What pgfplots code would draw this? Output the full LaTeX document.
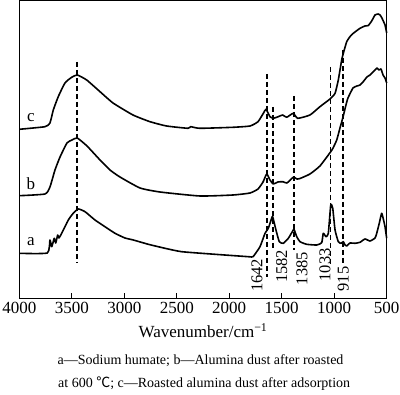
\documentclass[border=0pt]{standalone}
\usepackage{fontspec}
\setmainfont{Liberation Serif}
\newfontfamily\cjk{Noto Sans CJK SC}
\usepackage{pgfplots}
\pgfplotsset{compat=1.18}
\begin{document}
\begin{tikzpicture}[x=1pt,y=1pt]
\useasboundingbox (-19.3,-97) rectangle (380.7,298);
\begin{axis}[
  at={(0,0)}, anchor=south west,
  scale only axis, width=367.4pt, height=297.5pt,
  x dir=reverse, xmin=500, xmax=4000, ymin=0, ymax=297.5,
  xtick={500,1000,1500,2000,2500,3000,3500,4000},
  ytick=\empty,
  xtick pos=bottom, tick align=inside, major tick length=5pt,
  axis line style={line width=0.9pt},
  every tick/.style={black, line width=0.9pt},
  /pgf/number format/assume math mode=true,
  /pgf/number format/1000 sep={},
  xticklabel style={font=\fontsize{17}{20}\selectfont, anchor=base, inner sep=0pt, yshift=-15.3pt},
  clip=false,
  every axis plot/.append style={line width=1.6pt, black, line join=round},
]
% curve a
\addplot[smooth, tension=0.3] coordinates {
(4000,44.7)(3733,45)(3708,58)(3691,51.3)(3667,59.7)(3653,55)(3634,63)(3622,60)(3596,64.7)
(3533,78)(3486,84.7)(3438,89)(3374,86.3)(3279,78)(3184,71.3)(3088,64.7)(2993,60)(2914,58)
(2771,53.7)(2612,49.7)(2453,46.3)(2136,43.7)(1818,41.3)(1786,41)(1771,41.5)(1707,51.3)
(1659,64.7)(1628,69.7)(1596,79.7)(1586,81.3)(1555,68)(1523,56.3)(1485,54.7)(1437,59.7)
(1399,66.3)(1383,68.7)(1357,61.3)(1326,56.3)(1262,53.7)(1167,53)(1119,55.3)(1104,64.7)
(1078,61.3)(1056,64.7)(1033,93)(1014,89.7)(992,68)(961,56.3)(935,54.7)(913,56.3)(897,53)
(881,52)(850,55)(802,54.7)(754,55.7)(707,59)(659,57)(611,60)(595,64.7)(570,75)(548,84.7)
(530,78)(516,71.3)(500,59.7)};
% curve b
\addplot[smooth, tension=0.3] coordinates {
(4000,102.3)(3755,104)(3708,111)(3660,128)(3612,141)(3546,155)(3498,158)(3448,160)
(3355,152)(3231,138)(3136,128)(3041,121)(2850,110)(2660,106)(2279,102)(1964,103)
(1802,105)(1726,109)(1678,116)(1643,124)(1612,118)(1580,114)(1536,116)(1488,116.3)
(1450,115)(1390,120.7)(1355,119)(1326,119.5)(1231,124)(1136,132)(1033,146.3)(1011,150)
(976,158)(945,170)(916,181)(888,193)(869,200)(821,210)(783,212)(754,213)(726,216)
(688,221)(659,223)(630,226)(611,228)(592,230)(573,228)(554,229)(535,223)(516,220)(500,215)};
% curve c
\addplot[smooth, tension=0.3] coordinates {
(4000,168.7)(3755,171.3)(3708,175)(3676,188)(3629,201.3)(3565,215)(3501,220.7)(3448,223)
(3358,218)(3231,206.3)(3107,195)(2917,183)(2755,176.3)(2597,172)(2393,169.7)(2367,171.3)
(2279,169.7)(1964,170.7)(1802,172)(1726,176.3)(1675,184.7)(1650,188.7)(1612,181.3)
(1580,179.7)(1533,181.3)(1491,183)(1453,180.7)(1390,184.7)(1348,179.7)(1231,183)
(1136,191.3)(1040,199)(992,204.7)(961,218)(929,238)(913,244.7)(881,256.3)(850,261.3)
(818,264.7)(754,269.7)(707,272)(675,272.5)(643,277)(611,283)(580,284)(564,283)(548,280.5)
(516,273)(500,265)};
% dashed marker lines
\addplot[dash pattern=on 5pt off 3pt, line width=1.5pt] coordinates {(3450,236)(3450,35)};
\addplot[dash pattern=on 5pt off 3pt, line width=1.5pt] coordinates {(1642,224)(1642,21)};
\addplot[dash pattern=on 5pt off 3pt, line width=1.5pt] coordinates {(1582,191)(1582,48)};
\addplot[dash pattern=on 5pt off 3pt, line width=1.5pt] coordinates {(1385,202)(1385,48)};
\addplot[dash pattern=on 5pt off 3pt, line width=1.5pt] coordinates {(1033,231)(1033,33)};
\addplot[dash pattern=on 5pt off 3pt, line width=1.5pt] coordinates {(915,248)(915,35)};
% curve labels
\node[font=\fontsize{17}{20}\selectfont, anchor=base] at (axis cs:3890,52.3) {a};
\node[font=\fontsize{17}{20}\selectfont, anchor=base] at (axis cs:3890,108) {b};
\node[font=\fontsize{17}{20}\selectfont, anchor=base] at (axis cs:3890,176.3) {c};
% peak labels
\node[font=\fontsize{16.5}{18}\selectfont, rotate=90, inner sep=0pt] at (axis cs:1736,22.5) {1642};
\node[font=\fontsize{16.5}{18}\selectfont, rotate=90, inner sep=0pt] at (axis cs:1500,31.7) {1582};
\node[font=\fontsize{16.5}{18}\selectfont, rotate=90, inner sep=0pt] at (axis cs:1307,29.3) {1385};
\node[font=\fontsize{16.5}{18}\selectfont, rotate=90, inner sep=0pt] at (axis cs:1088,33) {1033};
\node[font=\fontsize{16.5}{18}\selectfont, rotate=90, inner sep=0pt] at (axis cs:913,19) {915};
% x label
\node[font=\fontsize{17}{20}\selectfont, anchor=base] at (axis cs:2250,-39.7) {Wavenumber/cm\textsuperscript{−1}};
\end{axis}
\node[font=\fontsize{14}{16}\selectfont, anchor=base west, inner sep=0pt] at (38.2,-67) {a—Sodium humate; b—Alumina dust after roasted};
\node[font=\fontsize{14}{16}\selectfont, anchor=base west, inner sep=0pt] at (38.7,-89.3) {at 600 {\cjk ℃}; c—Roasted alumina dust after adsorption};
\end{tikzpicture}
\end{document}
